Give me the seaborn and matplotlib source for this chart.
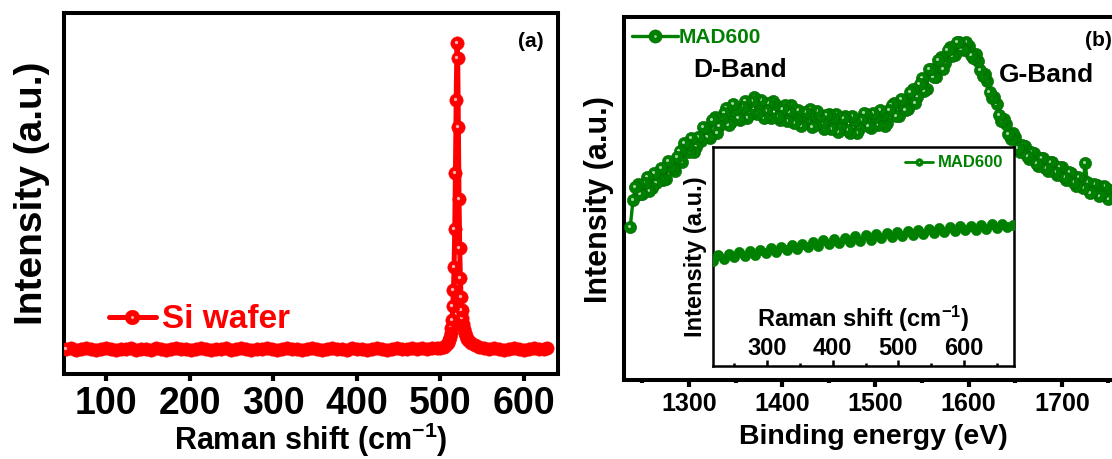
import matplotlib
matplotlib.use("Agg")
import matplotlib.pyplot as plt
import matplotlib.transforms as mtransforms
from matplotlib.lines import Line2D
import pandas as pd
import seaborn as sns

# ---- panel (a): Si wafer Raman spectrum (intensity in a.u.)
si_shift = [52, 58, 64, 70, 76, 82, 88, 94, 100, 106, 112, 118, 124, 130, 136,
            142, 148, 154, 160, 166, 172, 178, 184, 190, 196, 202, 208, 214, 220, 226,
            232, 238, 244, 250, 256, 262, 268, 274, 280, 286, 292, 298, 304, 310, 316,
            322, 328, 334, 340, 346, 352, 358, 364, 370, 376, 382, 388, 394, 400, 406,
            412, 418, 424, 430, 436, 442, 448, 454, 460, 466, 472, 478, 484, 490, 496,
            500, 504, 507, 509, 510.5, 511.5, 512.4, 513.2, 514.0, 514.8, 515.6, 516.4,
            517.2, 518.0, 518.9, 519.8, 520.7, 521.5, 522.3, 523.1, 523.9, 524.7, 525.5,
            526.3, 527.1, 528, 529, 530.5, 532, 534, 537, 541, 546,
            552, 558, 564, 570, 576, 582, 588, 594, 600, 606, 612, 618, 624, 628]
si_int = [25, 26, 24, 25, 26, 25, 24, 25, 26, 25, 24, 25, 25, 26, 24,
          25, 25, 24, 26, 25, 24, 25, 26, 25, 25, 24, 25, 26, 25, 24,
          25, 25, 26, 24, 25, 26, 25, 24, 25, 25, 26, 25, 24, 25, 26,
          25, 25, 24, 25, 26, 25, 24, 25, 26, 25, 25, 24, 26, 25, 25,
          24, 25, 26, 25, 24, 25, 26, 25, 25, 26, 25, 26, 25, 26, 26,
          26, 27, 29, 31, 34, 37, 41, 46, 54, 68, 84, 107,
          145, 201, 274, 331, 316, 247, 175, 126, 96, 77, 64,
          56, 50, 45, 41, 38, 35, 33, 31, 29, 27,
          26, 25, 26, 25, 24, 25, 26, 25, 24, 25, 26, 25, 25, 26]

# ---- panel (b): MAD600 D/G bands, read on two interleaved grids
mad_energy = [1237,
              1240, 1245, 1250, 1255, 1260, 1265, 1270, 1275, 1280, 1285,
              1290, 1295, 1300, 1305, 1310, 1315, 1320, 1325, 1330, 1335,
              1340, 1345, 1350, 1355, 1360, 1365, 1370, 1375, 1380, 1385,
              1390, 1395, 1400, 1405, 1410, 1415, 1420, 1425, 1430, 1435,
              1440, 1445, 1450, 1455, 1460, 1465, 1470, 1475, 1480, 1485,
              1490, 1495, 1500, 1505, 1510, 1515, 1520, 1525, 1530, 1535,
              1540, 1545, 1550, 1555, 1560, 1565, 1570, 1575, 1580, 1585,
              1590, 1595, 1600, 1605, 1610, 1615, 1620, 1625, 1630, 1635,
              1640, 1645, 1650, 1655, 1660, 1665, 1670, 1675, 1680, 1685,
              1690, 1695, 1700, 1705, 1710, 1715, 1720, 1725, 1730, 1735,
              1740, 1745, 1750, 1755, 1760, 1765]
mad_int = [153,
           180, 196, 186, 203, 192, 197, 212, 201, 214, 209,
           229, 237, 228, 228, 243, 253, 243, 260, 247, 261,
           272, 258, 272, 260, 279, 266, 283, 269, 262, 277,
           279, 263, 271, 259, 275, 260, 254, 268, 271, 255,
           263, 251, 266, 262, 248, 262, 250, 264, 247, 260,
           266, 252, 263, 270, 254, 270, 277, 264, 280, 271,
           291, 283, 302, 291, 311, 303, 323, 317, 333, 325,
           338, 330, 334, 322, 319, 304, 299, 282, 276, 259,
           256, 241, 243, 228, 234, 221, 227, 214, 222, 209,
           218, 205, 213, 200, 207, 194, 201, 217, 187, 196,
           184, 194, 181, 190, 178, 186]
mad_energy_mid = [1242.5, 1247.5, 1252.5, 1257.5, 1262.5, 1267.5, 1272.5, 1277.5, 1282.5, 1287.5,
                  1292.5, 1297.5, 1302.5, 1307.5, 1312.5, 1317.5, 1322.5, 1327.5, 1332.5, 1337.5,
                  1342.5, 1347.5, 1352.5, 1357.5, 1362.5, 1367.5, 1372.5, 1377.5, 1382.5, 1387.5,
                  1392.5, 1397.5, 1402.5, 1407.5, 1412.5, 1417.5, 1422.5, 1427.5, 1432.5, 1437.5,
                  1442.5, 1447.5, 1452.5, 1457.5, 1462.5, 1467.5, 1472.5, 1477.5, 1482.5, 1487.5,
                  1492.5, 1497.5, 1502.5, 1507.5, 1512.5, 1517.5, 1522.5, 1527.5, 1532.5, 1537.5,
                  1542.5, 1547.5, 1552.5, 1557.5, 1562.5, 1567.5, 1572.5, 1577.5, 1582.5, 1587.5,
                  1592.5, 1597.5, 1602.5, 1607.5, 1612.5, 1617.5, 1622.5, 1627.5, 1632.5, 1637.5,
                  1642.5, 1647.5, 1652.5, 1657.5, 1662.5, 1667.5, 1672.5, 1677.5, 1682.5, 1687.5,
                  1692.5, 1697.5, 1702.5, 1707.5, 1712.5, 1717.5, 1722.5, 1727.5, 1732.5, 1737.5,
                  1742.5, 1747.5, 1752.5, 1757.5, 1762.5]
mad_int_mid = [193, 186, 197, 189, 207, 200, 200, 219, 212, 223,
               218, 234, 242, 233, 239, 252, 242, 263, 254, 267,
               255, 276, 262, 273, 262, 279, 266, 280, 269, 262,
               276, 260, 275, 268, 257, 270, 257, 266, 253, 269,
               257, 265, 251, 266, 252, 264, 247, 260, 251, 267,
               254, 267, 255, 265, 257, 275, 264, 281, 270, 288,
               277, 296, 289, 311, 303, 320, 311, 330, 324, 338,
               331, 338, 325, 326, 310, 306, 288, 283, 265, 261,
               246, 247, 232, 235, 224, 228, 217, 222, 212, 218,
               208, 213, 203, 208, 198, 203, 192, 198, 188, 195,
               185, 192, 182, 188, 179]

# ---- inset: MAD600 low-shift Raman
inset_shift = [218, 226, 234, 242, 250, 258, 266, 274, 282, 290,
               298, 306, 314, 322, 330, 338, 346, 354, 362, 370,
               378, 386, 394, 402, 410, 418, 426, 434, 442, 450,
               458, 466, 474, 482, 490, 498, 506, 514, 522, 530,
               538, 546, 554, 562, 570, 578, 586, 594, 602, 610,
               618, 626, 634, 642, 650, 658, 666, 674]
inset_int = [105, 111, 107, 112, 109, 114, 110, 115, 111, 116,
             113, 118, 114, 119, 116, 121, 117, 122, 119, 124,
             120, 126, 122, 127, 123, 128, 124, 130, 125, 131,
             126, 132, 128, 133, 129, 134, 130, 135, 131, 136,
             132, 137, 133, 138, 134, 139, 135, 140, 136, 140,
             136, 141, 137, 142, 138, 142, 139, 141]

RED, RED_EDGE, RED_SHINE = "#ff0000", "#ff0000", "#ffb4b4"
GREEN, GREEN_EDGE, GREEN_SHINE = "#008000", "#006400", "#a6d4a6"

sns.set_style("white")
plt.rcParams["font.family"] = ["Liberation Sans", "DejaVu Sans"]
plt.rcParams["font.weight"] = "bold"
plt.rcParams["axes.labelweight"] = "bold"
plt.rcParams["mathtext.default"] = "regular"
plt.rcParams["text.color"] = "black"
plt.rcParams["axes.labelcolor"] = "black"
plt.rcParams["xtick.color"] = "black"

W, H = 1112, 459
fig = plt.figure(figsize=(W / 100, H / 100), dpi=100)


def px_box(l, t, r, b):
    return [l / W, 1 - b / H, (r - l) / W, (b - t) / H]


ax_a = fig.add_axes(px_box(64, 13, 558, 374))
ax_b = fig.add_axes(px_box(624, 17, 1122, 380))
ax_in = fig.add_axes(px_box(713, 147, 1014, 366))
ax_in.set_facecolor("white")


def balls(ax, x, y, color, edge, shine, ms, lw):
    # line first, then shaded balls drawn right-to-left, so each ball hides
    # the up-left highlight of its right neighbour in dense stretches
    sns.lineplot(x=x, y=y, ax=ax, color=color, lw=lw, sort=False,
                 estimator=None, legend=False, zorder=2)
    shift = mtransforms.ScaledTranslation(-ms * 0.1 / 72, ms * 0.1 / 72,
                                          fig.dpi_scale_trans)
    for xi, yi in zip(x[::-1], y[::-1]):
        ax.plot(xi, yi, "o", ms=ms, mfc=color, mec=edge, mew=0.4, zorder=3)
        if shine is not None:
            ax.plot(xi, yi, "o", ms=ms * 0.25, mfc=shine, mec="none", zorder=3,
                    transform=ax.transData + shift)


def handle(color, edge, shine, ms, lw):
    ball = Line2D([], [], color=color, lw=lw, marker="o", ms=ms,
                  mfc=color, mec=edge, mew=0.4)
    dot = Line2D([], [], ls="none", marker="o", ms=ms * 0.2, mfc=shine, mec="none")
    return (ball, dot)


def frame(ax, lw):
    for s in ax.spines.values():
        s.set_visible(True)
        s.set_linewidth(lw)
        s.set_color("black")
    ax.set_yticks([])


# ---------------- panel (a)
balls(ax_a, si_shift, si_int, RED, RED_EDGE, RED_SHINE, ms=9.6, lw=3.6)
ax_a.set_xlim(49.7, 640.7)
ax_a.set_ylim(0, 361)
frame(ax_a, 2.9)
ax_a.set_xticks([100, 200, 300, 400, 500, 600])
ax_a.tick_params(axis="x", bottom=True, direction="out", length=5, width=3,
                 labelsize=27, pad=3.5)
ax_a.set_xlabel("Raman shift (cm$^{-1}$)", fontsize=22, fontweight="bold")
ax_a.xaxis.set_label_coords(0.5, -0.13)
ax_a.set_ylabel("Intensity (a.u.)", fontsize=28, fontweight="bold")
ax_a.yaxis.set_label_coords(-0.028, 0.5)
ax_a.text(0.945, 0.922, "(a)", transform=ax_a.transAxes, ha="center",
          va="center", fontsize=15, fontweight="bold")
ax_a.legend(handles=[handle(RED, RED_EDGE, RED_SHINE, 10.5, 3.6)], labels=["Si wafer"],
            loc="center left", bbox_to_anchor=(0.091, 0.15), frameon=False,
            borderpad=0, borderaxespad=0, handlelength=1.4, handletextpad=0.18,
            prop={"size": 24, "weight": "bold"}, labelcolor=RED)

# ---------------- panel (b)
mad = pd.concat([pd.DataFrame({"energy": mad_energy, "intensity": mad_int}),
                 pd.DataFrame({"energy": mad_energy_mid, "intensity": mad_int_mid})])
mad = mad.sort_values("energy")
balls(ax_b, mad["energy"].tolist(), mad["intensity"].tolist(),
      GREEN, GREEN_EDGE, GREEN_SHINE, ms=8.8, lw=2.4)
ax_b.set_xlim(1230.3, 1764.6)
ax_b.set_ylim(0, 363)
frame(ax_b, 2.9)
ax_b.set_xticks([1300, 1400, 1500, 1600, 1700])
ax_b.set_xticks([1250, 1350, 1450, 1550, 1650, 1750], minor=True)
ax_b.tick_params(axis="x", which="major", bottom=True, direction="out", length=5,
                 width=3, labelsize=18, pad=3.5)
ax_b.tick_params(axis="x", which="minor", bottom=True, direction="out", length=2.5,
                 width=3)
ax_b.set_xlabel("Binding energy (eV)", fontsize=20.5, fontweight="bold")
ax_b.xaxis.set_label_coords(0.5, -0.121)
ax_b.set_ylabel("Intensity (a.u.)", fontsize=22, fontweight="bold")
ax_b.yaxis.set_label_coords(-0.021, 0.496)
ax_b.text(0.1386, 0.8347, "D-Band", transform=ax_b.transAxes, ha="left",
          va="baseline", fontsize=19, fontweight="bold")
ax_b.text(0.753, 0.821, "G-Band", transform=ax_b.transAxes, ha="left",
          va="baseline", fontsize=19, fontweight="bold")
ax_b.text(0.9257, 0.934, "(b)", transform=ax_b.transAxes, ha="left",
          va="center", fontsize=15, fontweight="bold")
ax_b.legend(handles=[handle(GREEN, GREEN_EDGE, GREEN_SHINE, 9.5, 2.4)], labels=["MAD600"],
            loc="center left", bbox_to_anchor=(0.016, 0.9435), frameon=False,
            borderpad=0, borderaxespad=0, handlelength=2.2, handletextpad=0.05,
            prop={"size": 15, "weight": "bold"}, labelcolor=GREEN)

# ---------------- inset (dense band, highlights hidden)
balls(ax_in, inset_shift, inset_int, GREEN, GREEN, None, ms=7.4, lw=2.5)
ax_in.set_xlim(217.8, 676)
ax_in.set_ylim(0, 219)
frame(ax_in, 1.8)
ax_in.set_xticks([300, 400, 500, 600])
ax_in.set_xticks([250, 350, 450, 550, 650], minor=True)
ax_in.tick_params(axis="x", which="major", bottom=True, direction="in", length=4,
                  width=1.8, labelsize=17, pad=-21)
ax_in.tick_params(axis="x", which="minor", bottom=True, direction="in", length=2.5,
                  width=1.8)
ax_in.set_xlabel("Raman shift (cm$^{-1}$)", fontsize=17, fontweight="bold")
ax_in.xaxis.set_label_coords(0.5, 0.285)
ax_in.set_ylabel("Intensity (a.u.)", fontsize=17, fontweight="bold")
ax_in.yaxis.set_label_coords(-0.02, 0.5)
ax_in.legend(handles=[handle(GREEN, GREEN, GREEN_SHINE, 5.5, 2)], labels=["MAD600"],
             loc="center left", bbox_to_anchor=(0.638, 0.927), frameon=False,
             borderpad=0, borderaxespad=0, handlelength=1.7, handletextpad=0.3,
             prop={"size": 12, "weight": "bold"}, labelcolor=GREEN)

fig.savefig("out.png", dpi=100)
